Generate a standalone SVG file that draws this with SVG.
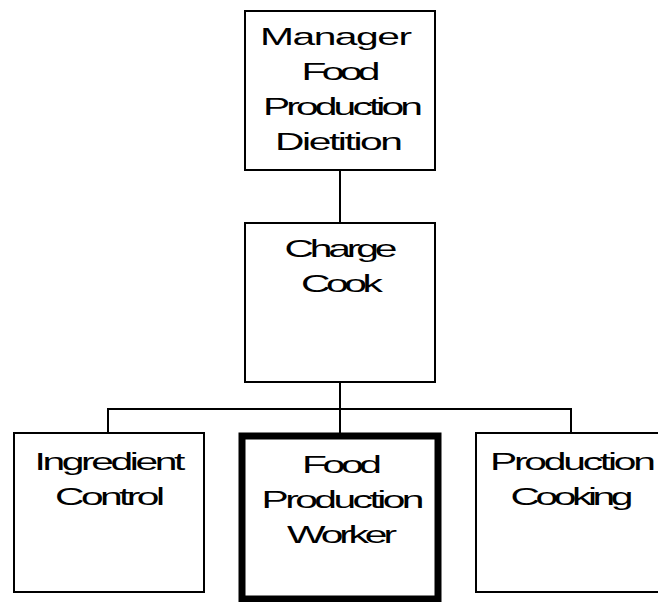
<svg xmlns="http://www.w3.org/2000/svg" width="658" height="602" viewBox="0 0 658 602">
  <style>
    .box { fill: #ffffff; stroke: #000000; stroke-width: 2; }
    .box-strong { fill: #ffffff; stroke: #000000; stroke-width: 7; }
    .link { fill: none; stroke: #000000; stroke-width: 2; }
    .label { font-family: "Liberation Sans", Arial, sans-serif; font-size: 24px; fill: #000000; text-anchor: middle; }
  </style>
  <rect width="658" height="602" fill="#ffffff"/>

  <!-- connectors -->
  <g id="connectors">
    <line class="link" x1="340" y1="170" x2="340" y2="223"/>
    <line class="link" x1="340" y1="382" x2="340" y2="409"/>
    <polyline class="link" points="108,433 108,409 571,409 571,433"/>
    <line class="link" x1="340" y1="409" x2="340" y2="433"/>
  </g>

  <!-- labels use a widened face with tight tracking -->
  <g id="manager">
    <rect class="box" x="245" y="11" width="190" height="159"/>
    <text class="label" transform="translate(336,45) scale(1.7,1)" textLength="89.4" lengthAdjust="spacing">Manager</text>
    <text class="label" transform="translate(341,80) scale(1.7,1)" textLength="46.5" lengthAdjust="spacing">Food</text>
    <text class="label" transform="translate(343,115) scale(1.7,1)" textLength="94.1" lengthAdjust="spacing">Production</text>
    <text class="label" transform="translate(339,150) scale(1.7,1)" textLength="75.3" lengthAdjust="spacing">Dietition</text>
  </g>

  <g id="charge-cook">
    <rect class="box" x="245" y="223" width="190" height="159"/>
    <text class="label" transform="translate(341,257) scale(1.7,1)" textLength="66.5" lengthAdjust="spacing">Charge</text>
    <text class="label" transform="translate(342,292) scale(1.7,1)" textLength="48.2" lengthAdjust="spacing">Cook</text>
  </g>

  <g id="ingredient-control">
    <rect class="box" x="14" y="433" width="190" height="159"/>
    <text class="label" transform="translate(110,470) scale(1.7,1)" textLength="88.8" lengthAdjust="spacing">Ingredient</text>
    <text class="label" transform="translate(110,505) scale(1.7,1)" textLength="64.7" lengthAdjust="spacing">Control</text>
  </g>

  <g id="food-production-worker">
    <rect class="box-strong" x="242" y="436" width="196" height="163"/>
    <text class="label" transform="translate(342,473) scale(1.7,1)" textLength="47.1" lengthAdjust="spacing">Food</text>
    <text class="label" transform="translate(343,508) scale(1.7,1)" textLength="95.9" lengthAdjust="spacing">Production</text>
    <text class="label" transform="translate(342,543) scale(1.7,1)" textLength="64.7" lengthAdjust="spacing">Worker</text>
  </g>

  <g id="production-cooking">
    <rect class="box" x="476" y="433" width="192" height="159"/>
    <text class="label" transform="translate(573,470) scale(1.7,1)" textLength="97.6" lengthAdjust="spacing">Production</text>
    <text class="label" transform="translate(572,505) scale(1.7,1)" textLength="72.4" lengthAdjust="spacing">Cooking</text>
  </g>
</svg>
